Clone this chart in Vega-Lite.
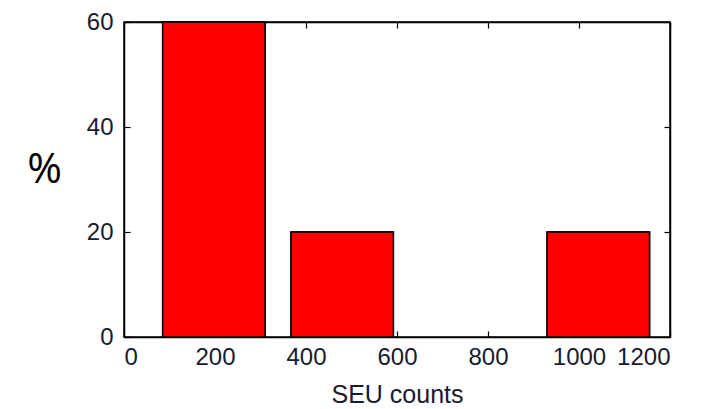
{
  "$schema": "https://vega.github.io/schema/vega-lite/v6.json",
  "autosize": "none",
  "width": 546,
  "height": 315,
  "padding": {"left": 124, "top": 22, "right": 41, "bottom": 72},
  "background": "white",
  "config": {
    "view": {"stroke": "black", "strokeWidth": 1.5},
    "axis": {"grid": false, "domainColor": "black", "domainWidth": 1.5, "tickColor": "black", "tickWidth": 1.2, "tickSize": -6, "labelFont": "Liberation Sans", "labelFontSize": 24, "labelColor": "#1a1a2e", "labelFontWeight": "normal"}
  },
  "data": {"values": [
    {"lo": 85, "hi": 310, "pct": 60},
    {"lo": 367, "hi": 592, "pct": 20},
    {"lo": 930, "hi": 1155, "pct": 20}
  ]},
  "layer": [
    {
      "mark": {"type": "bar", "fill": "#ff0000", "stroke": "black", "strokeWidth": 1.5},
      "encoding": {
        "x": {"field": "lo", "type": "quantitative", "scale": {"domain": [0, 1200], "nice": false},
          "axis": {"values": [0, 200, 400, 600, 800, 1000, 1200], "format": "d", "title": "SEU counts", "titleFont": "Liberation Sans", "titleFontSize": 25, "titleFontWeight": "normal", "titleColor": "#1a1a2e", "labelPadding": 14, "titlePadding": 13}},
        "x2": {"field": "hi"},
        "y": {"field": "pct", "type": "quantitative", "scale": {"domain": [0, 60], "nice": false},
          "axis": {"values": [0, 20, 40, 60], "title": "%", "titleAngle": 0, "titleFont": "Open Sans", "titleFontSize": 42, "titleFontWeight": "normal", "titleColor": "black", "titleX": -80, "titleY": 147, "titleAlign": "center", "titleBaseline": "middle", "labelPadding": 17}},
        "y2": {"datum": 0}
      }
    },
    {
      "mark": {"type": "bar", "fill": "#ff0000", "stroke": "black", "strokeWidth": 1.5},
      "encoding": {
        "x": {"field": "lo", "type": "quantitative", "scale": {"domain": [0, 1200], "nice": false},
          "axis": {"orient": "top", "values": [0, 200, 400, 600, 800, 1000, 1200], "labels": false, "title": null}},
        "x2": {"field": "hi"},
        "y": {"field": "pct", "type": "quantitative", "scale": {"domain": [0, 60], "nice": false},
          "axis": {"orient": "right", "values": [0, 20, 40, 60], "labels": false, "title": null}},
        "y2": {"datum": 0}
      }
    }
  ],
  "resolve": {"axis": {"x": "independent", "y": "independent"}}
}
